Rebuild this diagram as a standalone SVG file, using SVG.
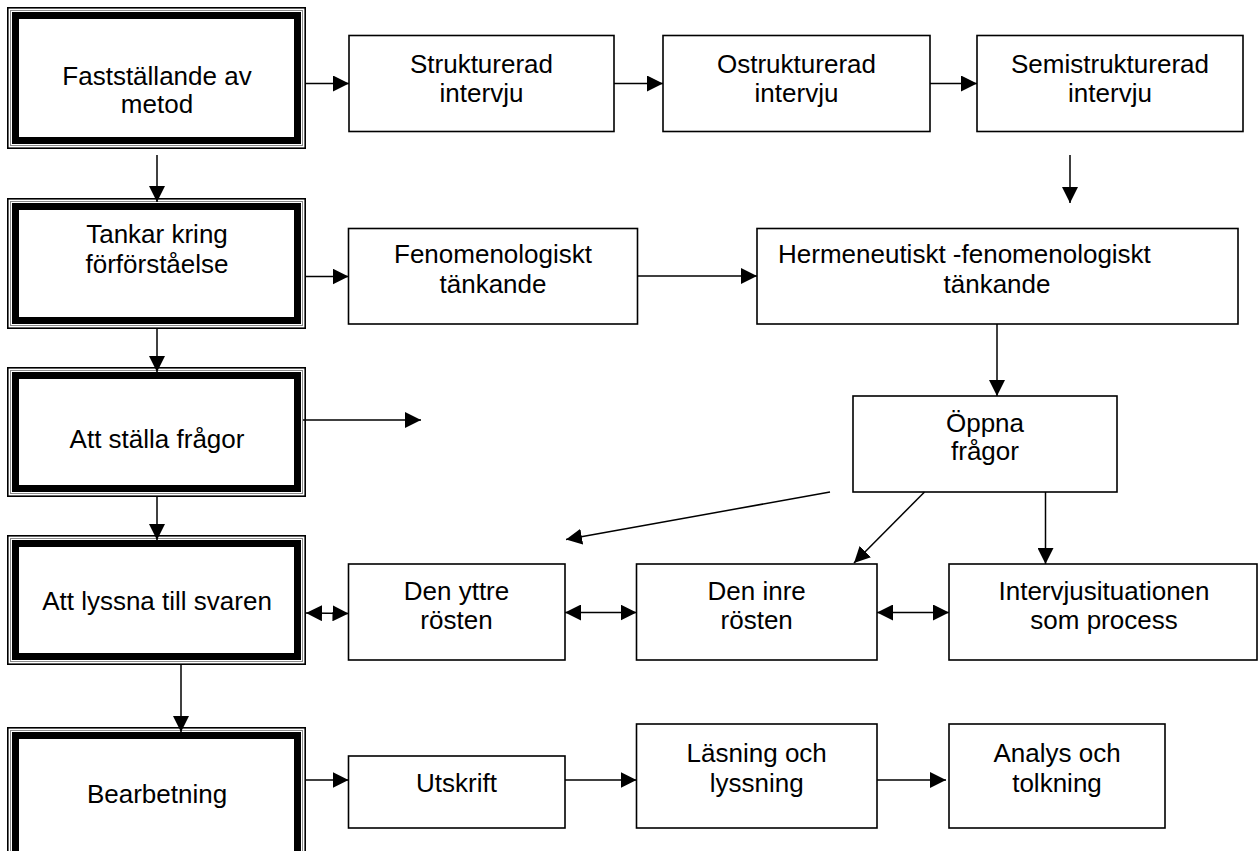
<svg xmlns="http://www.w3.org/2000/svg" width="1259" height="851" viewBox="0 0 1259 851">
<defs>
<marker id="ah" markerUnits="userSpaceOnUse" markerWidth="16" markerHeight="16" refX="15" refY="7.5" orient="auto-start-reverse" viewBox="0 0 15 15">
<path d="M0,0 L15,7.5 L0,15 z" fill="#000"/>
</marker>
<style>
text{font-family:"Liberation Sans",Arial,sans-serif;font-size:26px;fill:#000;text-anchor:middle}
.box{fill:#fff;stroke:#000;stroke-width:1.6}
.o{fill:#fff;stroke:#000;stroke-width:1.6}
.g{fill:none;stroke:#8a8a8a;stroke-width:1}
.t{fill:none;stroke:#000;stroke-width:7}
.c line,.c path{stroke:#000;stroke-width:1.5;fill:none}
.a{marker-end:url(#ah)}
.d{marker-end:url(#ah);marker-start:url(#ah)}
</style>
</defs>
<rect width="1259" height="851" fill="#fff"/>

<g id="n-faststallande">
<rect class="o" x="7.8" y="7.8" width="297.4" height="140.4"/>
<rect class="g" x="10.5" y="10.5" width="292" height="135"/>
<rect class="t" x="15.5" y="15.5" width="282" height="125"/>
<text x="157" y="85">Fastställande av</text>
<text x="157" y="113">metod</text>
</g>
<g id="n-tankar">
<rect class="o" x="7.8" y="198.8" width="297.4" height="129.4"/>
<rect class="g" x="10.5" y="201.5" width="292" height="124"/>
<rect class="t" x="15.5" y="206.5" width="282" height="114"/>
<text x="157" y="243">Tankar kring</text>
<text x="157" y="273">förförståelse</text>
</g>
<g id="n-stalla">
<rect class="o" x="7.8" y="367.8" width="297.4" height="128.4"/>
<rect class="g" x="10.5" y="370.5" width="292" height="123"/>
<rect class="t" x="15.5" y="375.5" width="282" height="113"/>
<text x="157" y="448">Att ställa frågor</text>
</g>
<g id="n-lyssna">
<rect class="o" x="7.8" y="535.8" width="297.4" height="128.4"/>
<rect class="g" x="10.5" y="538.5" width="292" height="123"/>
<rect class="t" x="15.5" y="543.5" width="282" height="113"/>
<text x="157" y="610">Att lyssna till svaren</text>
</g>
<g id="n-bearbetning">
<rect class="o" x="7.8" y="727.8" width="297.4" height="140"/>
<rect class="g" x="10.5" y="730.5" width="292" height="140"/>
<rect class="t" x="15.5" y="735.5" width="282" height="140"/>
<text x="157" y="803">Bearbetning</text>
</g>

<g id="n-strukturerad">
<rect class="box" x="349" y="35.5" width="265" height="96"/>
<text x="481.5" y="73">Strukturerad</text>
<text x="481.5" y="102">intervju</text>
</g>
<g id="n-ostrukturerad">
<rect class="box" x="663" y="35.5" width="267" height="96"/>
<text x="796.5" y="73">Ostrukturerad</text>
<text x="796.5" y="102">intervju</text>
</g>
<g id="n-semistrukturerad">
<rect class="box" x="977" y="35.5" width="266" height="96"/>
<text x="1110" y="73">Semistrukturerad</text>
<text x="1110" y="102">intervju</text>
</g>

<g id="n-fenomenologiskt">
<rect class="box" x="348.5" y="228.5" width="289" height="95.5"/>
<text x="493" y="263">Fenomenologiskt</text>
<text x="493" y="293">tänkande</text>
</g>
<g id="n-hermeneutiskt">
<rect class="box" x="757" y="228.5" width="481" height="95.5"/>
<text x="778" y="263" style="text-anchor:start">Hermeneutiskt -fenomenologiskt</text>
<text x="997" y="293">tänkande</text>
</g>

<g id="n-oppna">
<rect class="box" x="853" y="396" width="264" height="96"/>
<text x="985" y="432">Öppna</text>
<text x="985" y="460">frågor</text>
</g>

<g id="n-yttre">
<rect class="box" x="348.5" y="564" width="216.5" height="96"/>
<text x="456.5" y="600">Den yttre</text>
<text x="456.5" y="629">rösten</text>
</g>
<g id="n-inre">
<rect class="box" x="636.5" y="564" width="240.5" height="96"/>
<text x="756.7" y="600">Den inre</text>
<text x="756.7" y="629">rösten</text>
</g>
<g id="n-intervjusituationen">
<rect class="box" x="949" y="564" width="308" height="96"/>
<text x="1104" y="600">Intervjusituationen</text>
<text x="1104" y="629">som process</text>
</g>

<g id="n-utskrift">
<rect class="box" x="348.5" y="756" width="216.5" height="72"/>
<text x="456.5" y="792">Utskrift</text>
</g>
<g id="n-lasning">
<rect class="box" x="636.5" y="724" width="240.5" height="104"/>
<text x="756.7" y="762">Läsning och</text>
<text x="756.7" y="792">lyssning</text>
</g>
<g id="n-analys">
<rect class="box" x="949" y="724" width="216" height="104"/>
<text x="1057" y="762">Analys och</text>
<text x="1057" y="792">tolkning</text>
</g>

<g id="connectors" class="c">
<line class="a" x1="306" y1="83.5" x2="349" y2="83.5"/>
<line class="a" x1="614" y1="83.5" x2="663" y2="83.5"/>
<line class="a" x1="930" y1="83.5" x2="977" y2="83.5"/>
<line class="a" x1="1070" y1="155" x2="1070" y2="203"/>
<line class="a" x1="157" y1="155" x2="157" y2="202"/>
<line class="a" x1="157" y1="329" x2="157" y2="372"/>
<line class="a" x1="157" y1="497" x2="157" y2="540"/>
<line class="a" x1="181" y1="665" x2="181" y2="732"/>
<line class="a" x1="306" y1="276.5" x2="348.5" y2="276.5"/>
<line class="a" x1="637.5" y1="276" x2="757" y2="276"/>
<line class="a" x1="997" y1="324" x2="997" y2="396"/>
<line class="a" x1="303" y1="420" x2="421" y2="420"/>
<line class="a" x1="830" y1="492" x2="566" y2="539.5"/>
<line class="a" x1="924.5" y1="492" x2="854" y2="563"/>
<line class="a" x1="1045.5" y1="492" x2="1045.5" y2="564"/>
<line class="d" x1="306" y1="613" x2="348.5" y2="613.5"/>
<line class="d" x1="565" y1="612.5" x2="636.5" y2="612.5"/>
<line class="d" x1="877" y1="612.5" x2="949" y2="612.5"/>
<line class="a" x1="306" y1="780" x2="348.5" y2="780"/>
<line class="a" x1="565" y1="780" x2="636.5" y2="780"/>
<line class="a" x1="877" y1="780" x2="946" y2="780"/>
</g>
</svg>
